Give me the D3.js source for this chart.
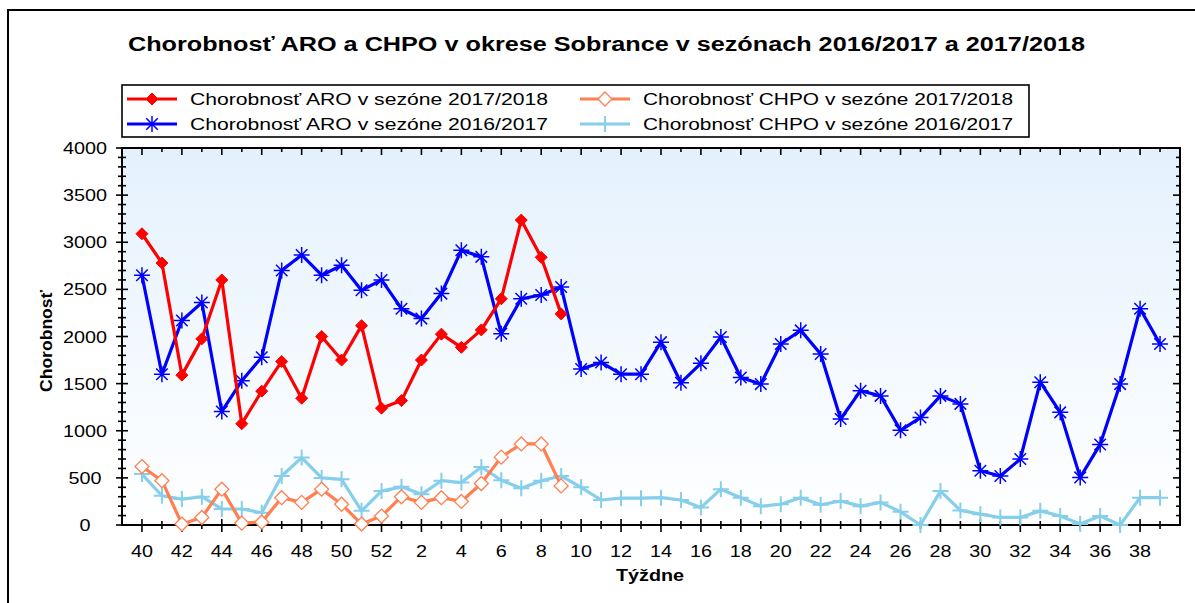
<!DOCTYPE html>
<html>
<head>
<meta charset="utf-8">
<script src="https://cdn.jsdelivr.net/npm/d3@7"></script>
<style>
  body { margin: 0; background: #fff; }
  svg { display: block; font-family: "Liberation Sans", Arial, sans-serif; }
  .tick-label { font-size: 16px; fill: #000; }
  .legend-text { font-size: 17px; fill: #000; }
</style>
</head>
<body>
<svg id="chart" width="1195" height="603"></svg>
<script>
const weeks = ["40","41","42","43","44","45","46","47","48","49","50","51","52",
  "1","2","3","4","5","6","7","8","9","10","11","12","13","14","15","16","17","18","19",
  "20","21","22","23","24","25","26","27","28","29","30","31","32","33","34","35","36","37","38","39"];

const yTicks = [0, 500, 1000, 1500, 2000, 2500, 3000, 3500, 4000];

const aro1718 = [3090, 2780, 1590, 1975, 2600, 1075, 1420, 1735, 1345, 2000, 1750, 2115, 1240,
  1320, 1750, 2025, 1885, 2070, 2400, 3235, 2840, 2240];

const aro1617 = [2650, 1600, 2170, 2360, 1205, 1530, 1780, 2700, 2865, 2650, 2755, 2490, 2600,
  2295, 2190, 2455, 2915, 2845, 2030, 2400, 2440, 2525,
  1655, 1725, 1600, 1600, 1940, 1510, 1715, 1995, 1565, 1495,
  1920, 2065, 1815, 1125, 1425, 1370, 1005, 1140, 1370, 1285,
  575, 520, 700, 1515, 1195, 505, 855, 1495, 2295, 1920];

const chpo1718 = [620, 470, 10, 80, 380, 20, 30, 290, 240, 380, 220, 10, 95,
  300, 240, 290, 250, 440, 720, 860, 860, 415];

const chpo1617 = [540, 310, 275, 300, 170, 170, 130, 520, 715, 500, 485, 150, 360,
  405, 325, 470, 450, 615, 475, 390, 470, 520,
  400, 265, 285, 285, 290, 265, 185, 380, 290, 200,
  220, 290, 215, 255, 200, 240, 140, 0, 360, 155,
  115, 80, 80, 150, 95, 10, 95, 0, 290, 290];

const series = [
  { name: "Chorobnosť CHPO v sezóne 2016/2017", values: chpo1617, color: "#87ceeb", marker: "plus" },
  { name: "Chorobnosť CHPO v sezóne 2017/2018", values: chpo1718, color: "#ff7f50", marker: "odiamond" },
  { name: "Chorobnosť ARO v sezóne 2016/2017", values: aro1617, color: "#0000ff", marker: "star" },
  { name: "Chorobnosť ARO v sezóne 2017/2018", values: aro1718, color: "#ff0000", marker: "diamond" }
];

const legendOrder = [
  "Chorobnosť ARO v sezóne 2017/2018",
  "Chorobnosť CHPO v sezóne 2017/2018",
  "Chorobnosť ARO v sezóne 2016/2017",
  "Chorobnosť CHPO v sezóne 2016/2017"
];

const svg = d3.select("#chart");
const plot = { left: 122, top: 148, right: 1180, bottom: 525 };

const x = d3.scaleLinear().domain([-1, weeks.length]).range([plot.left, plot.right]);
const y = d3.scaleLinear().domain([0, 4000]).range([plot.bottom, plot.top]);

svg.append("rect")
  .attr("x", 8).attr("y", 10)
  .attr("width", 1200).attr("height", 610)
  .attr("fill", "none")
  .attr("stroke", "#000")
  .attr("stroke-width", 2);

svg.append("text")
  .attr("x", 128)
  .attr("y", 51)
  .attr("textLength", 957)
  .attr("lengthAdjust", "spacingAndGlyphs")
  .style("font-size", "20px")
  .style("font-weight", "bold")
  .text("Chorobnosť ARO a CHPO v okrese Sobrance v sezónach 2016/2017 a 2017/2018");

const defs = svg.append("defs");
const grad = defs.append("linearGradient")
  .attr("id", "bg")
  .attr("x1", 0).attr("y1", 0).attr("x2", 0).attr("y2", 1);
grad.append("stop").attr("offset", "0%").attr("stop-color", "#e4f1fd");
grad.append("stop").attr("offset", "100%").attr("stop-color", "#ffffff");

svg.append("rect")
  .attr("x", plot.left).attr("y", plot.top)
  .attr("width", plot.right - plot.left)
  .attr("height", plot.bottom - plot.top)
  .attr("fill", "url(#bg)");

// ticks on all four sides
const minorY = d3.range(0, 4001, 100);
const g = svg.append("g").attr("stroke", "#000").attr("stroke-width", 1.6);

g.selectAll(".ly").data(minorY).join("line")
  .attr("x1", d => plot.left - (d % 500 === 0 ? 6 : 4))
  .attr("x2", d => plot.left + (d % 500 === 0 ? 6 : 4))
  .attr("y1", d => y(d)).attr("y2", d => y(d));

g.selectAll(".ry").data(minorY).join("line")
  .attr("x1", d => plot.right - (d % 500 === 0 ? 7 : 4))
  .attr("x2", plot.right)
  .attr("y1", d => y(d)).attr("y2", d => y(d));

g.selectAll(".bx").data(weeks).join("line")
  .attr("x1", (d, i) => x(i)).attr("x2", (d, i) => x(i))
  .attr("y1", (d, i) => plot.bottom - (i % 2 === 0 ? 6 : 4))
  .attr("y2", (d, i) => plot.bottom + (i % 2 === 0 ? 7 : 4));

g.selectAll(".tx").data(weeks).join("line")
  .attr("x1", (d, i) => x(i)).attr("x2", (d, i) => x(i))
  .attr("y1", plot.top)
  .attr("y2", (d, i) => plot.top + (i % 2 === 0 ? 7 : 4));

svg.append("rect")
  .attr("x", plot.left).attr("y", plot.top)
  .attr("width", plot.right - plot.left)
  .attr("height", plot.bottom - plot.top)
  .attr("fill", "none")
  .attr("stroke", "#000")
  .attr("stroke-width", 2);

svg.selectAll(".ylab").data(yTicks).join("text")
  .attr("class", "tick-label")
  .attr("x", 85)
  .attr("y", d => y(d) + 6)
  .attr("text-anchor", "middle")
  .attr("textLength", d => String(d).length * 11)
  .attr("lengthAdjust", "spacingAndGlyphs")
  .text(d => d);

svg.selectAll(".xlab").data(weeks.filter((d, i) => i % 2 === 0)).join("text")
  .attr("class", "tick-label")
  .attr("x", (d, i) => x(i * 2))
  .attr("y", 557)
  .attr("text-anchor", "middle")
  .attr("textLength", d => d.length * 11)
  .attr("lengthAdjust", "spacingAndGlyphs")
  .text(d => d);

svg.append("text")
  .attr("x", 650).attr("y", 581)
  .attr("text-anchor", "middle")
  .attr("textLength", 68)
  .attr("lengthAdjust", "spacingAndGlyphs")
  .style("font-size", "16px")
  .style("font-weight", "bold")
  .text("Týždne");

svg.append("text")
  .attr("transform", "translate(52,341) rotate(-90)")
  .attr("text-anchor", "middle")
  .attr("textLength", 102)
  .attr("lengthAdjust", "spacingAndGlyphs")
  .style("font-size", "16px")
  .style("font-weight", "bold")
  .text("Chorobnosť");

function drawMarker(sel, type, color) {
  if (type === "diamond" || type === "odiamond") {
    const r = type === "diamond" ? 6 : 7;
    sel.append("path")
      .attr("d", `M0,${-r}L${r},0L0,${r}L${-r},0Z`)
      .attr("fill", type === "diamond" ? color : "#fff")
      .attr("stroke", color)
      .attr("stroke-width", type === "diamond" ? 1 : 1.3);
  } else if (type === "star") {
    const r = 8;
    const d = r * 0.72;
    sel.append("path")
      .attr("d", `M${-r},0L${r},0M0,${-r}L0,${r}M${-d},${-d}L${d},${d}M${-d},${d}L${d},${-d}`)
      .attr("stroke", color)
      .attr("stroke-width", 1.5);
  } else if (type === "plus") {
    sel.append("path")
      .attr("d", "M-8,0L8,0M0,-8L0,8")
      .attr("stroke", color)
      .attr("stroke-width", 2);
  }
}

const line = d3.line()
  .x((d, i) => x(i))
  .y(d => y(d));

series.forEach(s => {
  svg.append("path")
    .datum(s.values)
    .attr("fill", "none")
    .attr("stroke", s.color)
    .attr("stroke-width", 3.2)
    .attr("stroke-linejoin", "round")
    .attr("d", line);

  svg.append("g").selectAll("g").data(s.values).join("g")
    .attr("transform", (d, i) => `translate(${x(i)},${y(d)})`)
    .each(function () { drawMarker(d3.select(this), s.marker, s.color); });
});

const legend = svg.append("g");
legend.append("rect")
  .attr("x", 122).attr("y", 85)
  .attr("width", 907).attr("height", 52)
  .attr("fill", "#fff")
  .attr("stroke", "#000")
  .attr("stroke-width", 1.6);

legendOrder.forEach((name, k) => {
  const s = series.find(d => d.name === name);
  const lx = k % 2 === 0 ? 127 : 580;
  const ly = k < 2 ? 99 : 124;
  const item = legend.append("g");
  item.append("line")
    .attr("x1", lx).attr("x2", lx + 50)
    .attr("y1", ly).attr("y2", ly)
    .attr("stroke", s.color)
    .attr("stroke-width", 3.2);
  drawMarker(item.append("g").attr("transform", `translate(${lx + 25},${ly})`), s.marker, s.color);
  item.append("text")
    .attr("class", "legend-text")
    .attr("x", lx + 63)
    .attr("y", ly + 6)
    .attr("textLength", k % 2 === 0 ? 358 : 370)
    .attr("lengthAdjust", "spacingAndGlyphs")
    .text(name);
});
</script>
</body>
</html>
